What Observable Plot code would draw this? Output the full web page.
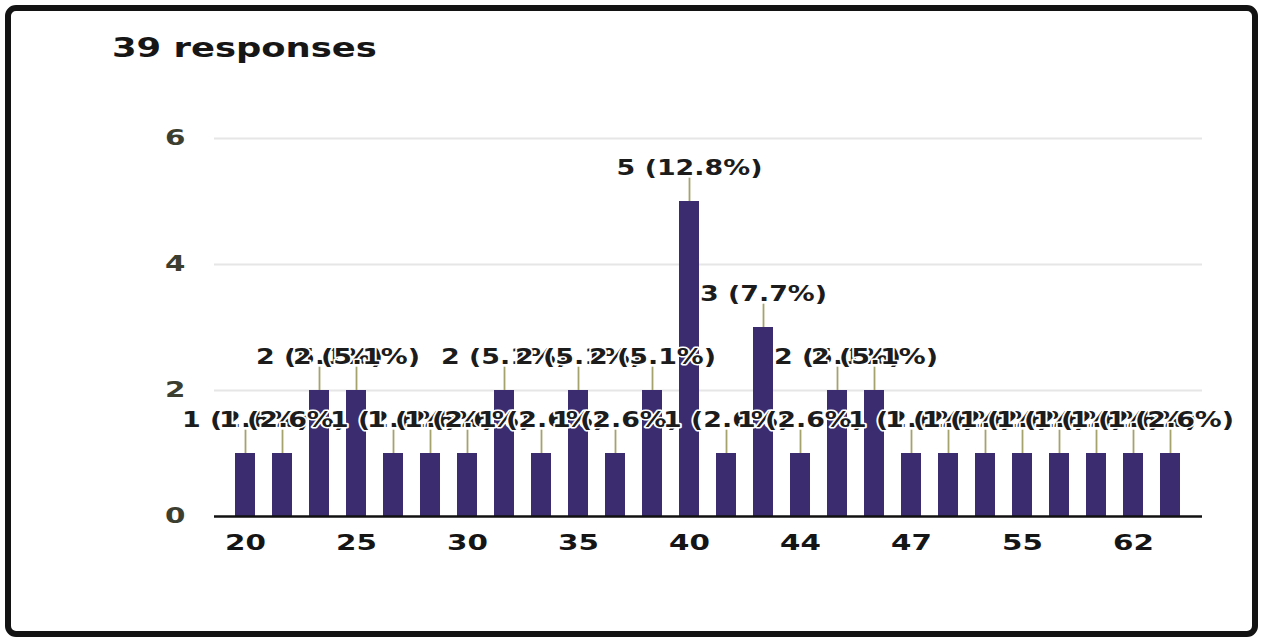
<!DOCTYPE html>
<html>
<head>
<meta charset="utf-8">
<script src="https://cdn.jsdelivr.net/npm/d3@7"></script>
<script src="https://cdn.jsdelivr.net/npm/@observablehq/plot@0.6"></script>
<style>
  html, body { margin: 0; padding: 0; background: #fff; }
  #wrap { position: relative; width: 1265px; height: 640px; overflow: hidden; background: #fff; }
  #frame { position: absolute; left: 5px; top: 5px; width: 1241px; height: 620px;
           border: 6px solid #131313; border-radius: 11px; }
  #title { position: absolute; left: 112px; top: 35px; font-family: "DejaVu Sans", sans-serif;
           font-weight: bold; font-size: 26px; line-height: 1; color: #161616;
           transform: scaleX(1.36); transform-origin: left center; white-space: nowrap; }
  #chart { position: absolute; left: 0; top: 100px; }
</style>
</head>
<body>
<div id="wrap">
  <div id="frame"></div>
  <div id="title">39 responses</div>
  <div id="chart"></div>
</div>
<script>
// Age categories (only every third one is labelled on the axis)
const ages = [20, 22, 23, 25, 26, 28, 30, 32, 33, 35, 36, 38, 40, 42, 43, 44, 45, 46, 47, 50, 52, 55, 58, 60, 62, 65];
// Number of responses per age
const counts = [1, 1, 2, 2, 1, 1, 1, 2, 1, 2, 1, 2, 5, 1, 3, 1, 2, 2, 1, 1, 1, 1, 1, 1, 1, 1];
const totalResponses = 39;
const xTickLabels = [20, 25, 30, 35, 40, 44, 47, 55, 62];
const yTicks = [0, 2, 4, 6];

const data = ages.map((age, i) => ({age, count: counts[i]}));
const label = d => `${d.count} (${(d.count / totalResponses * 100).toFixed(1)}%)`;

const plot = Plot.plot({
  width: 1265,
  height: 470,
  marginLeft: 214,
  marginRight: 63,
  marginTop: 38,
  marginBottom: 54,
  style: {fontFamily: "DejaVu Sans, sans-serif", fontWeight: "bold", fontSize: "21px", background: "transparent"},
  x: {domain: ages, padding: 0.45, label: null},
  y: {domain: [0, 6], label: null},
  marks: [
    Plot.ruleY([2, 4, 6], {stroke: "#e6e6e6", strokeWidth: 2}),
    Plot.axisY({ticks: yTicks, tickFormat: d => String(d), tickSize: 0, tickPadding: 29, fontSize: 21, fill: "#3c3e30", label: null}),
    Plot.axisX({ticks: xTickLabels, tickFormat: d => String(d), tickSize: 0, tickPadding: 19, fontSize: 21, fill: "#151515", label: null}),
    Plot.barY(data, {x: "age", y: "count", fill: "#3b2c70"}),
    Plot.ruleY([0], {stroke: "#111", strokeWidth: 2.5}),
    Plot.ruleX(data, {x: "age", y1: "count", y2: d => d.count + 0.37, stroke: "#a5a36c", strokeWidth: 1.8}),
    Plot.text(data, {x: "age", y: "count", text: label, dy: -27, lineAnchor: "bottom",
      fontSize: 21, fontWeight: "bold", fill: "#1c1c1c", stroke: "white", strokeWidth: 3, paintOrder: "stroke"})
  ]
});

document.getElementById("chart").appendChild(plot);

// widen glyphs horizontally around each text's own anchor, like the reference rendering
plot.querySelectorAll("text").forEach(t => {
  const g = t.closest("g");
  const aria = g ? (g.getAttribute("aria-label") || "") : "";
  const s = aria.includes("axis") ? 1.4 : 1.28;
  const b = t.getBBox();
  const anchor = getComputedStyle(t).textAnchor;
  const cx = anchor === "end" ? b.x + b.width : anchor === "middle" ? b.x + b.width / 2 : b.x;
  const tr = t.getAttribute("transform") || "";
  t.setAttribute("transform", `${tr} translate(${cx},0) scale(${s},1) translate(${-cx},0)`);
});
</script>
</body>
</html>
